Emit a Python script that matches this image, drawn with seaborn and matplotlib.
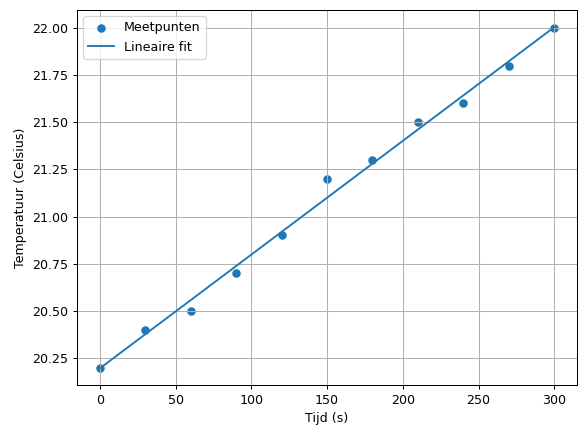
import numpy as np
import matplotlib
matplotlib.use("Agg")
import matplotlib.pyplot as plt
import seaborn as sns

tijd = [0, 30, 60, 90, 120, 150, 180, 210, 240, 270, 300]
temperatuur = [20.2, 20.4, 20.5, 20.7, 20.9, 21.2, 21.3, 21.5, 21.6, 21.8, 22.0]

slope, intercept = np.polyfit(tijd, temperatuur, 1)
fit = [slope * t + intercept for t in tijd]

fig, ax = plt.subplots(figsize=(6.4, 4.8), dpi=91.25)
fig.subplots_adjust(left=0.132, right=0.988, top=0.977, bottom=0.12)
sns.scatterplot(x=tijd, y=temperatuur, ax=ax, color="#1f77b4", s=45, linewidth=0, label="Meetpunten")
sns.lineplot(x=tijd, y=fit, ax=ax, color="#1f77b4", label="Lineaire fit")
ax.set_xlabel("Tijd (s)")
ax.set_ylabel("Temperatuur (Celsius)")
ax.grid(True)
ax.legend(loc="upper left")
fig.savefig("out.png", dpi=91.25)
